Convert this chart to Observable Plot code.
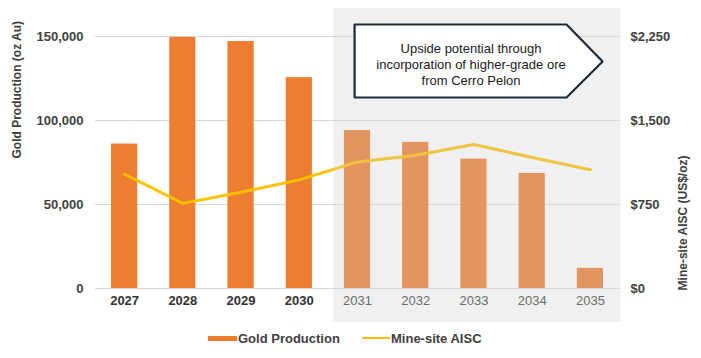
<!DOCTYPE html>
<html><head><meta charset="utf-8">
<script src="https://cdn.jsdelivr.net/npm/d3@7"></script>
<script src="https://cdn.jsdelivr.net/npm/@observablehq/plot@0.6"></script>
<style>
body{margin:0;background:#fff;font-family:"Liberation Sans",Arial,sans-serif;}
#chart svg{overflow:visible;display:block;}
.legend{position:relative;height:32px;font-size:13px;font-weight:bold;color:#404040;}
.legend .item{position:absolute;top:4px;display:flex;align-items:center;height:16px;}
.legend .sw-bar{width:29px;height:5px;background:#ED7D31;margin-right:1px;}
.legend .sw-line{width:28px;height:2.5px;background:#FFC000;margin-right:1px;}
</style></head><body>
<div id="chart"></div>
<div class="legend">
  <div class="item" style="left:208px"><span class="sw-bar"></span><span>Gold Production</span></div>
  <div class="item" style="left:362px"><span class="sw-line"></span><span>Mine-site AISC</span></div>
</div>
<script>
const years = [2027, 2028, 2029, 2030, 2031, 2032, 2033, 2034, 2035];
const goldProduction = [86000, 149500, 147000, 125500, 94000, 87000, 77000, 68500, 12000];
const aisc = [1020, 760, 860, 970, 1130, 1190, 1285, 1170, 1060];
const leftTicks = [0, 50000, 100000, 150000];
const rightTicks = [0, 750, 1500, 2250];
const forecastStart = 2031;
const calloutText = ["Upside potential through", "incorporation of higher-grade ore", "from Cerro Pelon"];
const leftTitle = "Gold Production (oz Au)";
const rightTitle = "Mine-site AISC (US$/oz)";

const ratio = 150000 / 2250;
const data = years.map((year, i) => ({year, gold: goldProduction[i], aisc: aisc[i] * ratio}));

// annotation geometry (in data space)
const shade = [{x1: 2030.59, x2: 2035.53, y1: -20200, y2: 166700}];
const calloutShape = [
  {x: 2030.95, y: 157143}, {x: 2034.59, y: 157143}, {x: 2035.21, y: 135119},
  {x: 2034.59, y: 113690}, {x: 2030.95, y: 113690}, {x: 2030.95, y: 157143}
];

const font = "Liberation Sans, Arial, sans-serif";
const chart = Plot.plot({
  width: 701, height: 326,
  marginLeft: 95, marginRight: 82, marginTop: 36, marginBottom: 38,
  style: {fontFamily: font, background: "#fff"},
  x: {type: "linear", domain: [2026.5, 2035.5], axis: null},
  y: {domain: [0, 150000], axis: null},
  marks: [
    Plot.gridY({ticks: leftTicks, stroke: "#D9D9D9", strokeOpacity: 1}),
    Plot.rectY(data, {x1: d => d.year - 0.225, x2: d => d.year + 0.225, y: "gold", fill: "#ED7D31"}),
    Plot.line(data, {x: "year", y: "aisc", stroke: "#FFC000", strokeWidth: 3}),
    Plot.text(data.filter(d => d.year < forecastStart), {x: "year", text: d => String(d.year), frameAnchor: "bottom", dy: 16, fontSize: 13, fontWeight: "bold", fill: "#333333"}),
    Plot.text(data.filter(d => d.year >= forecastStart), {x: "year", text: d => String(d.year), frameAnchor: "bottom", dy: 16, fontSize: 13, fill: "#404040"}),
    Plot.rect(shade, {x1: "x1", x2: "x2", y1: "y1", y2: "y2", fill: "#CCCCCC", fillOpacity: 0.3}),
    Plot.line(calloutShape, {x: "x", y: "y", fill: "white", stroke: "#1C2B39", strokeWidth: 2.2, strokeLinejoin: "miter"}),
    Plot.text([calloutText.join("\n")], {x: 2032.95, y: 133929, lineHeight: 1.23, fontSize: 13, fill: "#1a1a1a"}),
    Plot.axisY({ticks: leftTicks, tickSize: 0, tickPadding: 12, tickFormat: d3.format(","), label: null, fontSize: 13, fontWeight: "bold", fill: "#404040"}),
    Plot.axisY({anchor: "right", ticks: rightTicks.map(v => v * ratio), tickSize: 0, tickPadding: 11, tickFormat: d => "$" + d3.format(",")(Math.round(d / ratio)), label: null, fontSize: 13, fontWeight: "bold", fill: "#404040"}),
    Plot.text([leftTitle], {frameAnchor: "left", dx: -78, dy: -4, rotate: -90, fontSize: 12, fontWeight: "bold", fill: "#404040"}),
    Plot.text([rightTitle], {frameAnchor: "right", dx: 64, dy: -7, rotate: -90, fontSize: 12, fontWeight: "bold", fill: "#404040"})
  ]
});
document.getElementById("chart").append(chart);
</script>
</body></html>
